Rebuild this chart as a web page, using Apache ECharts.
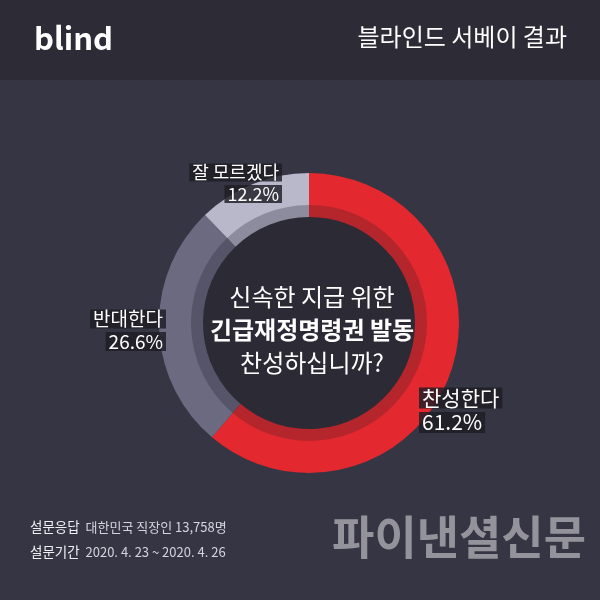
<!DOCTYPE html>
<html>
<head>
<meta charset="utf-8">
<script src="https://cdn.jsdelivr.net/npm/echarts@6/dist/echarts.min.js"></script>
<style>
  html, body { margin: 0; padding: 0; background: #363543; }
  #chart { width: 600px; height: 600px; }
</style>
</head>
<body>
<div id="chart"></div>
<script>
// 설문 결과
const answers = ['찬성한다', '반대한다', '잘 모르겠다']
const shares = [61.2, 26.6, 12.2]

const ringColors = ['#e3292f', '#6b6a80', '#b9b8cb']
const shadeColors = ['#b5262c', '#555468', '#8d8c9f']

// 라벨 위치 (왼쪽 위 기준)
const labelPos = [
  { x: 419, y: 385, align: 'left', size: 21 },
  { x: 166, y: 307, align: 'right', size: 19 },
  { x: 282, y: 161, align: 'right', size: 18 }
]

const FONT = '"Noto Sans CJK KR", "Noto Sans", sans-serif'
const center = [309, 323]

const chart = echarts.init(document.getElementById('chart'))

const option = {
  backgroundColor: '#363543',
  animation: false,
  graphic: [
    { type: 'rect', shape: { x: 0, y: 0, width: 600, height: 80 }, style: { fill: '#2c2b36' }, z: -10 },
    {
      type: 'text', left: 34, top: 23,
      style: { text: 'blind', fill: '#ffffff', font: 'bold 31px ' + FONT }
    },
    {
      type: 'text', right: 33, top: 25,
      style: { text: '블라인드 서베이 결과', fill: '#ffffff', font: '24px ' + FONT }
    },
    {
      type: 'text', left: 30, top: 520,
      style: {
        text: '{k|설문응답}  {v|대한민국 직장인 13,758명}\n{k|설문기간}  {v|2020. 4. 23 ~ 2020. 4. 26}',
        font: '13px ' + FONT,
        rich: {
          k: { fill: '#f0f0f4', fontSize: 13.5, fontFamily: FONT, lineHeight: 25 },
          v: { fill: '#d6d5de', fontSize: 13, fontFamily: FONT, lineHeight: 25 }
        }
      }
    },
    {
      type: 'text', right: 14, top: 514,
      style: { text: '파이낸셜신문', fill: '#94939b', font: 'bold 46px ' + FONT }
    }
  ],
  title: {
    text: '{n|신속한 지급 위한}\n{b|긴급재정명령권 발동}\n{n|찬성하십니까?}',
    left: 307,
    top: 275,
    textAlign: 'center',
    textStyle: {
      rich: {
        n: { color: '#ffffff', fontSize: 24, fontWeight: 'normal', fontFamily: FONT, lineHeight: 33, align: 'center' },
        b: { color: '#ffffff', fontSize: 24, fontWeight: 'bold', fontFamily: FONT, lineHeight: 33, align: 'center' }
      }
    }
  },
  series: [
    {
      // 안쪽 어두운 원
      type: 'pie',
      silent: true,
      center: center,
      radius: [0, 107],
      label: { show: false },
      itemStyle: { color: '#2b2a35' },
      data: [1],
      z: 1
    },
    {
      // 안쪽 그림자 띠
      type: 'pie',
      silent: true,
      center: center,
      radius: [106, 119],
      startAngle: 90,
      label: { show: false },
      data: answers.map((name, i) => ({
        name: name, value: shares[i], itemStyle: { color: shadeColors[i] }
      })),
      z: 2
    },
    {
      type: 'pie',
      center: center,
      radius: [118, 150],
      startAngle: 90,
      labelLine: { show: false },
      label: {
        show: true,
        position: 'outside',
        formatter: p => `{a|${p.name}}\n{b|${p.value}%}`
      },
      labelLayout: params => {
        const p = labelPos[params.dataIndex]
        return { x: p.x, y: p.y, align: p.align, verticalAlign: 'top' }
      },
      data: answers.map((name, i) => {
        const big = labelPos[i].size
        const al = labelPos[i].align
        return {
          name: name,
          value: shares[i],
          itemStyle: { color: ringColors[i] },
          label: {
            align: al,
            rich: {
              a: {
                color: '#ffffff', fontSize: big, fontFamily: FONT, lineHeight: big + 5,
                backgroundColor: 'rgba(30,29,37,0.82)', padding: [0, 3], align: al
              },
              b: {
                color: '#ffffff', fontSize: big, fontFamily: FONT, lineHeight: big + 2,
                backgroundColor: 'rgba(30,29,37,0.82)', padding: [0, 3], align: al
              }
            }
          }
        }
      }),
      z: 3
    }
  ]
}

chart.setOption(option)
window.addEventListener('resize', () => chart.resize())
</script>
</body>
</html>
